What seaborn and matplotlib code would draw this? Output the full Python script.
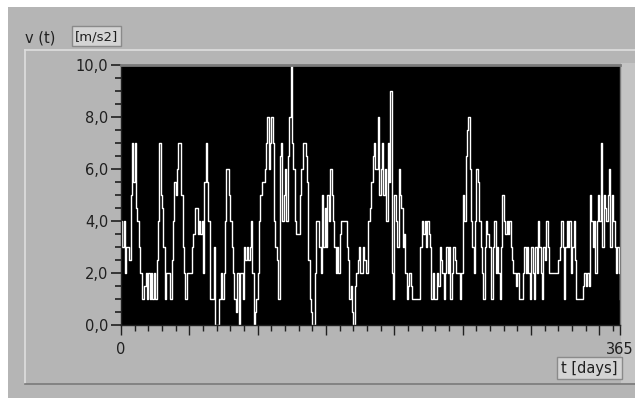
import numpy as np
import pandas as pd
import matplotlib
matplotlib.use("Agg")
import matplotlib.pyplot as plt
import seaborn as sns
from matplotlib.patches import Rectangle
from matplotlib.lines import Line2D

# ---- data (one value per day) ----
days = list(range(0, 366))
v_0_42 = [4, 3, 4, 2, 3, 3, 2.5, 5, 7, 5.5, 7, 4.5, 4, 3, 2, 1, 1, 1.5, 2, 1,
          2, 1, 2, 1, 2, 1, 2.5, 4, 7, 5, 4.5, 3, 1, 2, 2, 2, 1, 2.5, 4, 5.5,
          5, 6, 7]
v_43_87 = [7, 5, 3, 2, 1, 2, 2, 2, 2, 3, 3.5, 4.5, 4.5, 3.5, 4, 3.5, 4, 2, 5.5, 7,
           5.5, 4, 1, 1, 1, 3, 0, 0, 0, 1, 2, 1, 2, 4, 6, 6, 5, 4, 3, 2,
           1, 0.5, 2, 0, 2]
v_88_133 = [2, 1, 3, 2.5, 3, 2.5, 3, 4, 2, 0, 0.5, 1, 2, 4, 5, 5.5, 5.5, 6, 7, 8,
            6, 7, 8, 7, 4, 3, 2.5, 1, 6.5, 7, 4, 5, 6, 4, 6.5, 8, 10, 7, 6, 4,
            3.5, 3.5, 3.5, 5, 6, 7]
v_134_181 = [7, 6.5, 5.5, 2.5, 1, 0.5, 0, 0, 2, 4, 4, 3, 2, 5, 3, 4.5, 3, 5, 4, 6,
             5, 4, 3, 2, 3, 2, 3.5, 4, 4, 4, 4, 3, 2.5, 1, 1.5, 0.5, 0, 1.5, 2, 2.5,
             3, 2, 2, 3, 2.5, 2, 2, 4]
v_182_225 = [4.5, 5.5, 6.5, 7, 6, 6, 8, 5, 6, 7, 5, 6, 4, 7, 5.5, 9, 2, 1, 5, 4,
             3, 6, 5, 4.5, 3, 3.5, 2, 1, 1.5, 2, 1.5, 1, 1, 1, 1, 1, 1, 3, 4, 3.5,
             4, 3, 4, 3.5]
v_226_269 = [3, 1, 2, 1, 1, 2, 1.5, 3, 2.5, 2, 1, 2, 3, 2, 3, 1, 2, 3, 2.5, 2,
             2, 2, 1, 2, 5, 4, 6.5, 7.5, 8, 6, 4, 3, 2, 4, 6, 5.5, 4, 3, 2, 1,
             3, 4, 3.5, 3]
v_270_318 = [3, 1, 3, 4, 2, 3, 2, 1, 3, 5, 4, 3.5, 4, 3.5, 4, 3, 2.5, 2, 2, 1.5,
             2, 1, 1, 1, 2, 3, 2, 3, 2, 1, 3, 2, 1, 3, 2, 4, 3, 2, 1, 3,
             2.5, 4, 3, 2, 2, 2, 2, 2, 2]
v_319_365 = [2, 2.5, 3, 4, 3, 1, 3, 4, 3, 4, 2, 3, 4, 2.5, 1, 1, 1, 1, 1, 1.5,
             2, 1.5, 2, 1.5, 5, 4, 3, 4, 2, 4, 5, 4, 7, 3, 5, 4.5, 4, 5, 6, 3,
             5, 4, 3, 2, 3, 2, 1]
values = v_0_42 + v_43_87 + v_88_133 + v_134_181 + v_182_225 + v_226_269 + v_270_318 + v_319_365

y_major = [0, 2, 4, 6, 8, 10]
y_labels = ["0,0", "2,0", "4,0", "6,0", "8,0", "10,0"]
x_major = [0, 50, 100, 150, 200, 250, 300, 350, 365]
x_labels = ["0", "", "", "", "", "", "", "", "365"]

n = min(len(days), len(values))
df = pd.DataFrame({"t": days[:n], "v": values[:n]})

# ---- figure ----
W, H = 635, 398
fig = plt.figure(figsize=(W / 100, H / 100), dpi=100, facecolor="white")

def fx(px):
    return px / W

def fy(py):
    return 1 - py / H

gray = "#b5b5b5"
fig.add_artist(Rectangle((fx(8), 0), 1 - fx(8), fy(7), transform=fig.transFigure,
                         facecolor=gray, edgecolor="none", zorder=0))
# group frame lines
fig.add_artist(Line2D([fx(25), 1], [fy(50), fy(50)], transform=fig.transFigure, color="#dedede", lw=1.2))
fig.add_artist(Line2D([fx(25), fx(25)], [fy(50), fy(383)], transform=fig.transFigure, color="#dedede", lw=1.2))
fig.add_artist(Line2D([fx(25), 1], [fy(384), fy(384)], transform=fig.transFigure, color="#7a7a7a", lw=1.2))
fig.add_artist(Rectangle((fx(621), fy(383)), fx(635) - fx(621), fy(63) - fy(383), transform=fig.transFigure,
                         facecolor="#c4c4c4", edgecolor="none", zorder=0))

ax = fig.add_axes([fx(121), fy(325), fx(620) - fx(121), fy(65) - fy(325)])
ax.set_facecolor("black")
sns.lineplot(data=df, x="t", y="v", ax=ax, color="white", linewidth=1.0,
             drawstyle="steps-post", estimator=None)
ax.set_xlim(0, 365)
ax.set_ylim(0, 10)
ax.set_xlabel("")
ax.set_ylabel("")

ax.set_yticks(y_major)
ax.set_yticklabels(y_labels)
ax.set_yticks(np.arange(0, 10.01, 0.5), minor=True)
ax.set_xticks(x_major)
ax.set_xticklabels(x_labels)
ax.set_xticks(np.arange(0, 361, 10), minor=True)

ax.tick_params(axis="y", which="major", length=7, width=1.2, color="#202020", pad=2,
               labelsize=10.5, labelcolor="#202020")
ax.tick_params(axis="y", which="minor", length=4, width=1.2, color="#202020")
ax.tick_params(axis="x", which="major", length=7, width=1.0, color="#202020", pad=5,
               labelsize=10.5, labelcolor="#202020")
ax.tick_params(axis="x", which="minor", length=4, width=1.0, color="#202020")

for s in ["left", "bottom"]:
    ax.spines[s].set_color("#202020")
    ax.spines[s].set_linewidth(1.0)
ax.spines["top"].set_color("#7a7a7a")
ax.spines["top"].set_linewidth(2)
ax.spines["right"].set_color("#7a7a7a")
ax.spines["right"].set_linewidth(1)

# labels
fig.text(fx(25), fy(38), "v (t)", ha="left", va="center", fontsize=10.5, color="#202020")
fig.add_artist(Rectangle((fx(72), fy(46)), fx(121) - fx(72), fy(26) - fy(46), transform=fig.transFigure,
                         facecolor="#d4d4d4", edgecolor="#8a8a8a", lw=1))
fig.text(fx(96.5), fy(36.5), "[m/s2]", ha="center", va="center", fontsize=9.5, color="#202020")
fig.add_artist(Rectangle((fx(557), fy(379)), fx(622) - fx(557), fy(357) - fy(379), transform=fig.transFigure,
                         facecolor="#d4d4d4", edgecolor="#8a8a8a", lw=1))
fig.text(fx(589.5), fy(368), "t [days]", ha="center", va="center", fontsize=10.5, color="#202020")

fig.savefig("out.png", dpi=100, facecolor="white")
